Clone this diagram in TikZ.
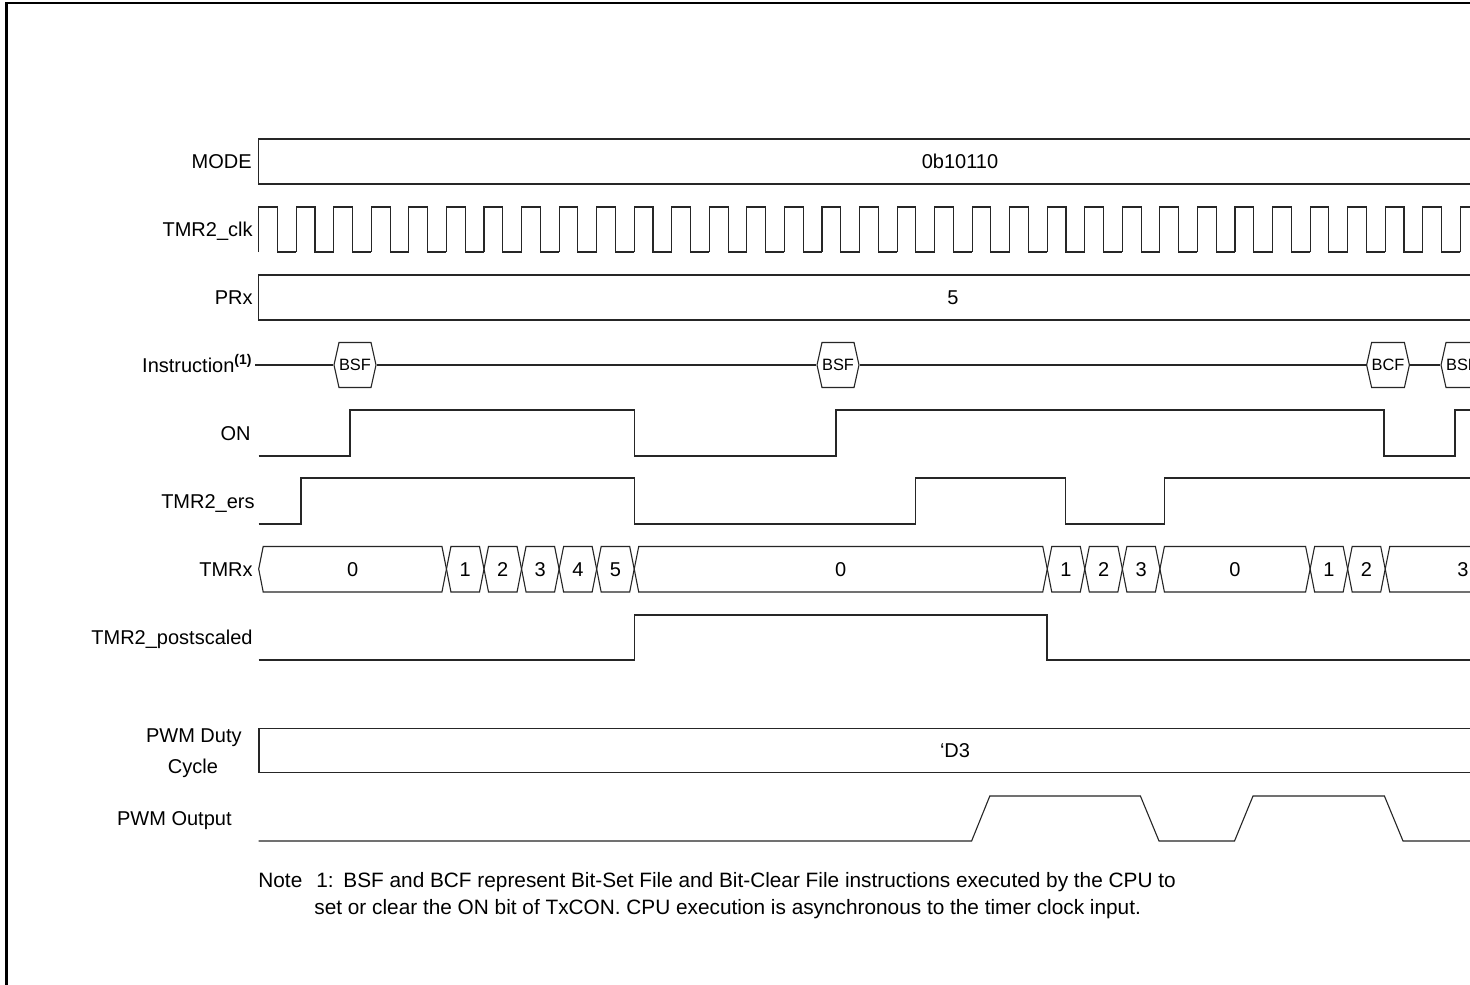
\documentclass[tikz,border=0pt]{standalone}
\usepackage{fontspec}
\setmainfont{Liberation Sans}
\usetikzlibrary{shapes.symbols}
\newcommand\lblfont{\fontsize{10}{12}\selectfont}
\newcommand\notefont{\fontsize{10.4}{12.5}\selectfont}
\newcommand\hexfont{\fontsize{8.2}{9.5}\selectfont}
\begin{document}
\begin{tikzpicture}[x=0.5pt,y=-0.5pt,
  sig/.style={draw=black!85,line width=0.55pt,line join=miter},
  lbl/.style={anchor=east,inner sep=0pt,font=\lblfont,text height=7.16pt,text depth=0pt},
  val/.style={inner sep=0pt,font=\lblfont,text height=7.16pt,text depth=0pt},
  notetext/.style={inner sep=0pt,anchor=west,font=\notefont,text height=7.45pt,text depth=0pt},
  hexa/.style={draw=black!85,line width=0.55pt,shape=signal,signal to=west and east,
    signal pointer angle=155,minimum height=22.5pt,minimum width=21pt,inner sep=0pt,
    font=\hexfont,fill=white},
  frameline/.style={line width=1.25pt,draw=black}]
\useasboundingbox (0,0) rectangle (1470,984);
\clip (0,0) rectangle (1470,984);
\fill[white] (0,0) rectangle (1470,984);
\draw[frameline] (6.5,990) -- (6.5,3) -- (1480,3);

% ---- labels
\node[lbl] (lmode) at (252,161) {MODE};
\node[lbl] (lclk) at (253,229) {TMR2\_clk};
\node[lbl] (lprx) at (253,297) {PRx};
\node[lbl] (linstr) at (253,365) {Instruction\textsuperscript{\textbf{(1)}}};
\node[lbl] (lon) at (251,433) {ON};
\node[lbl] (lers) at (255,501) {TMR2\_ers};
\node[lbl] (ltmrx) at (253,569) {TMRx};
\node[lbl] (lpost) at (253,637) {TMR2\_postscaled};
\node[lbl] (lduty) at (242,735) {PWM Duty};
\node[val] (lcycle) at (193,766) {Cycle};
\node[lbl] (lpwm) at (232,818) {PWM Output};

% ---- MODE bus
\draw[sig] (1500,139) -- (258.7,139) -- (258.7,184) -- (1500,184);
\node[val] (vmode) at (960,161) {0b10110};

% ---- clock
\foreach \k in {0,...,32}{
  \pgfmathsetmacro\xr{258.7+37.55*\k}
  \pgfmathsetmacro\xf{\xr+18.775}
  \pgfmathsetmacro\xn{\xr+37.55}
  \draw[sig] (\xr,252) -- (\xr,207) -- (\xf,207) -- (\xf,252) -- (\xn,252);
}

% ---- PRx bus
\draw[sig] (1500,275) -- (258.7,275) -- (258.7,320) -- (1500,320);
\node[val] (vprx) at (953,297) {5};

% ---- Instruction
\node[hexa] (bsfa) at (355,365) {BSF};
\node[hexa] (bsfb) at (838,365) {BSF};
\node[hexa] (bcf) at (1388,365) {BCF};
\node[hexa] (bsfc) at (1462,365) {BSF};
\draw[sig] ([xshift=1pt]linstr.east) -- (bsfa.west);
\draw[sig] (bsfa.east) -- (bsfb.west);
\draw[sig] (bsfb.east) -- (bcf.west);
\draw[sig] (bcf.east) -- (bsfc.west);

% ---- ON
\draw[sig] (258.7,456) -- (350,456) -- (350,410) -- (634.2,410) -- (634.2,456)
  -- (836,456) -- (836,410) -- (1384,410) -- (1384,456) -- (1455,456) -- (1455,410) -- (1500,410);

% ---- TMR2_ers
\draw[sig] (258.7,524) -- (301,524) -- (301,478) -- (634.2,478) -- (634.2,524)
  -- (915.5,524) -- (915.5,478) -- (1065.5,478) -- (1065.5,524) -- (1164.5,524)
  -- (1164.5,478) -- (1500,478);

% ---- TMRx bus
\foreach \a/\b/\t/\c in {258.7/446.45/0/352.6, 446.45/484.0/1/465.2, 484.0/521.55/2/502.8,
   521.55/559.1/3/540.3, 559.1/596.65/4/577.9, 596.65/634.2/5/615.4,
   634.2/1047.25/0/840.7, 1047.25/1084.8/1/1066, 1084.8/1122.35/2/1103.6,
   1122.35/1159.9/3/1141.1, 1159.9/1310.1/0/1235, 1310.1/1347.65/1/1328.9,
   1347.65/1385.2/2/1366.4, 1385.2/1541/3/1463}{
  \draw[sig] (\a,569) -- (\a+4.5,546.5) -- (\b-4.5,546.5) -- (\b,569) -- (\b-4.5,592) -- (\a+4.5,592) -- cycle;
  \node[val] (tm\a) at (\c,569) {\t};
}

% ---- TMR2_postscaled
\draw[sig] (258.7,660) -- (634.2,660) -- (634.2,615) -- (1047,615) -- (1047,660) -- (1500,660);

% ---- PWM Duty Cycle bus
\draw[sig] (1500,728.5) -- (259,728.5) -- (259,772.7) -- (1500,772.7);
\node[val] (vduty) at (955,750) {‘D3};

% ---- PWM Output
\draw[sig] (258.7,841) -- (971.6,841) -- (989.8,796) -- (1140.4,796) -- (1159,841)
  -- (1234.5,841) -- (1253,796) -- (1384.4,796) -- (1403,841) -- (1500,841);

% ---- note
\node[notetext] (nnote) at (258,880) {Note};
\node[notetext] (nnum) at (316,880) {1:};
\node[notetext] (nl1) at (343,880) {BSF and BCF represent Bit-Set File and Bit-Clear File instructions executed by the CPU to};
\node[notetext] (nl2) at (314,907) {set or clear the ON bit of TxCON. CPU execution is asynchronous to the timer clock input.};
\end{tikzpicture}
\end{document}
